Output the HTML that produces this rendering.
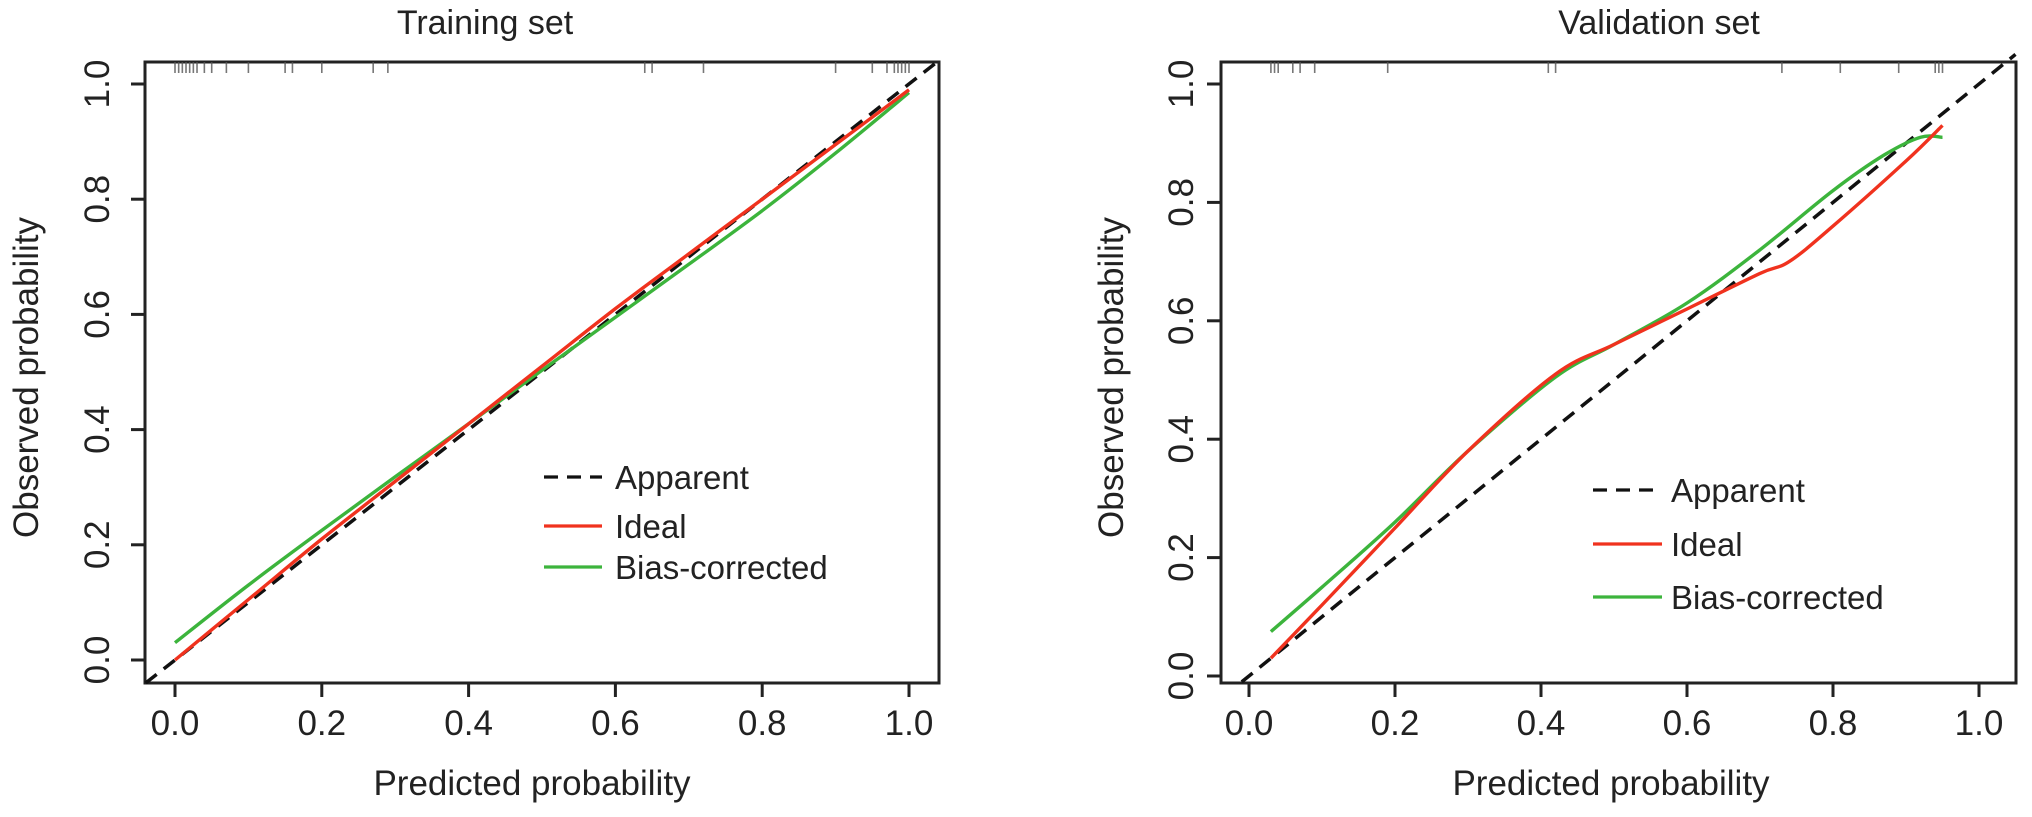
<!DOCTYPE html>
<html><head><meta charset="utf-8"><style>
html,body{margin:0;padding:0;background:#fff;}
svg{display:block;font-family:"Liberation Sans",Arial,sans-serif;}
</style></head><body>
<svg id="chart" width="2032" height="817" viewBox="0 0 2032 817"></svg>
<script>
const ticks=[0,0.2,0.4,0.6,0.8,1.0];
const tickLabels=["0.0","0.2","0.4","0.6","0.8","1.0"];
const trainX=[0,0.1,0.2,0.3,0.4,0.5,0.6,0.7,0.8,0.9,1.0];
const trainIdeal=[0,0.105,0.21,0.31,0.41,0.51,0.61,0.705,0.80,0.895,0.99];
const trainBias=[0.03,0.13,0.225,0.318,0.41,0.503,0.595,0.687,0.78,0.88,0.985];
const trainRug=[0,0.005,0.01,0.015,0.02,0.025,0.03,0.04,0.05,0.07,0.1,0.15,0.16,0.2,0.27,0.29,0.64,0.65,0.72,0.9,0.95,0.97,0.98,0.985,0.99,0.995,1.0];
const valX=[0.03,0.1,0.2,0.3,0.42,0.5,0.6,0.7,0.74,0.8,0.9,0.95];
const valIdeal=[0.03,0.12,0.25,0.38,0.51,0.56,0.62,0.68,0.70,0.76,0.87,0.93];
const valBiasX=[0.03,0.1,0.2,0.3,0.42,0.5,0.6,0.7,0.8,0.87,0.92,0.95];
const valBias=[0.075,0.15,0.26,0.38,0.505,0.56,0.63,0.72,0.82,0.88,0.91,0.91];
const valRug=[0.03,0.035,0.04,0.06,0.07,0.09,0.19,0.41,0.42,0.73,0.81,0.89,0.94,0.945,0.95];

const NS="http://www.w3.org/2000/svg";
const svg=document.getElementById('chart');
function mk(tag,attrs,parent){const e=document.createElementNS(NS,tag);for(const k in attrs)e.setAttribute(k,attrs[k]);(parent||svg).appendChild(e);return e;}

function smoothPath(pts){
  let d='M'+pts[0][0].toFixed(1)+','+pts[0][1].toFixed(1);
  for(let i=0;i<pts.length-1;i++){
    const p0=pts[Math.max(0,i-1)],p1=pts[i],p2=pts[i+1],p3=pts[Math.min(pts.length-1,i+2)];
    const c1=[p1[0]+(p2[0]-p0[0])/6,p1[1]+(p2[1]-p0[1])/6];
    const c2=[p2[0]-(p3[0]-p1[0])/6,p2[1]-(p3[1]-p1[1])/6];
    d+=' C'+c1.map(v=>v.toFixed(1)).join(',')+' '+c2.map(v=>v.toFixed(1)).join(',')+' '+p2[0].toFixed(1)+','+p2[1].toFixed(1);
  }
  return d;
}

function panel(o){
  const g=mk('g',{});
  
  
  const sx=v=>o.x0+(o.x1-o.x0)*v;
  const sy=v=>o.y0+(o.y1-o.y0)*v;
  const box=mk('rect',{x:o.bl,y:o.bt,width:o.br-o.bl,height:o.bb-o.bt,fill:'none',stroke:'#222','stroke-width':3},g);
  
  
  ticks.forEach((t,i)=>{
    const xt=mk('line',{x1:sx(t),x2:sx(t),y1:o.bb,y2:o.bb+14,stroke:'#222','stroke-width':3},g);
    
    
    const xl=mk('text',{x:sx(t),y:735,'text-anchor':'middle','font-size':35,fill:'#222'},g);
    xl.textContent=tickLabels[i];
    
    
    const yt=mk('line',{x1:o.bl-14,x2:o.bl,y1:sy(t),y2:sy(t),stroke:'#222','stroke-width':3},g);
    
    
    const yl=mk('text',{x:0,y:0,'text-anchor':'middle','font-size':35,fill:'#222',transform:`translate(${o.ytx+12},${sy(t)}) rotate(-90)`},g);
    yl.textContent=tickLabels[i];
    
    
  });
  o.rug.forEach(r=>{
    const l=mk('line',{x1:sx(r),x2:sx(r),y1:o.bt,y2:o.bt+11,stroke:'#555','stroke-width':1.6,'stroke-opacity':0.8},g);
    
    
  });
  const d=mk('line',{x1:sx(o.dA),y1:sy(o.dA),x2:sx(o.dB),y2:sy(o.dB),stroke:'#111','stroke-width':3.5,'stroke-dasharray':'14 9'},g);
  
  
  const path=(xs,ys)=>smoothPath(xs.map((x,i)=>[sx(x),sy(ys[i])]));
  const gr=mk('path',{d:path(o.bx,o.bias),fill:'none',stroke:'#3cb43c','stroke-width':3.4,'stroke-linejoin':'round'},g);
  
  
  const rd=mk('path',{d:path(o.ix,o.ideal),fill:'none',stroke:'#f0321e','stroke-width':3.4,'stroke-linejoin':'round'},g);
  
  
  const t=mk('text',{x:o.tx,y:34,'text-anchor':'middle','font-size':34,fill:'#222'},g);
  t.textContent=o.title;
  
  
  const xa=mk('text',{x:o.xax,y:795,'text-anchor':'middle','font-size':35,fill:'#222'},g);
  xa.textContent='Predicted probability';
  
  
  const ya=mk('text',{x:0,y:0,'text-anchor':'middle','font-size':35,fill:'#222',transform:`translate(${o.yax+12},${(o.bt+o.bb)/2+5}) rotate(-90)`},g);
  ya.textContent='Observed probability';
  
  
  const leg=[['Apparent','#111','14 9'],['Ideal','#f0321e',''],['Bias-corrected','#3cb43c','']];
  leg.forEach((L,i)=>{
    const y=o.ly[i];
    const ll=mk('line',{x1:o.lx1,x2:o.lx2,y1:y,y2:y,stroke:L[1],'stroke-width':3.2,'stroke-dasharray':L[2]},g);
    
    
    const lt=mk('text',{x:o.ltx,y:y+12,'font-size':33,fill:'#222'},g);
    lt.textContent=L[0];
    
    
  });
}
panel({name:'training-panel',title:'Training set',x0:175,x1:909,y0:660,y1:84,bl:145,br:939,bt:62,bb:683,
  ytx:97,tx:485,xax:532,yax:26,rug:trainRug,dA:-0.04,dB:1.04,ix:trainX,ideal:trainIdeal,bx:trainX,bias:trainBias,
  ly:[477,526,567],lx1:544,lx2:602,ltx:615});
panel({name:'validation-panel',title:'Validation set',x0:1249,x1:1979,y0:676,y1:84,bl:1221,br:2016,bt:62,bb:683,
  ytx:1181,tx:1659,xax:1611,yax:1111,rug:valRug,dA:-0.01,dB:1.05,ix:valX,ideal:valIdeal,bx:valBiasX,bias:valBias,
  ly:[490,544,597],lx1:1593,lx2:1662,ltx:1671});
</script>
</body></html>
